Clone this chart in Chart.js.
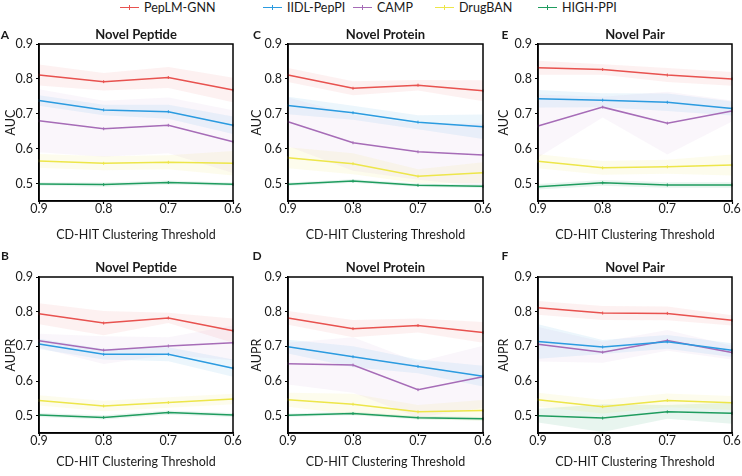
<!DOCTYPE html>
<html><head><meta charset="utf-8">
<script src="https://cdn.jsdelivr.net/npm/chart.js@4/dist/chart.umd.min.js"></script>
<style>
html,body{margin:0;padding:0;background:#fff;}
body{width:742px;height:476px;position:relative;overflow:hidden;font-family:Lato,sans-serif;}
canvas{position:absolute;}
.leg{position:absolute;top:0;height:15px;display:flex;align-items:center;font-size:12.5px;color:#1a1a1a;white-space:nowrap;}
.leg i{display:inline-block;width:19px;height:1.5px;margin-right:5px;position:relative;}
.leg i b{position:absolute;left:9px;top:-1.5px;width:1.2px;height:4.5px;}
</style></head>
<body>
<div id="legend"></div>
<canvas id="cA"></canvas><canvas id="cC"></canvas><canvas id="cE"></canvas>
<canvas id="cB"></canvas><canvas id="cD"></canvas><canvas id="cF"></canvas>
<script>
// ---------- data ----------
const thresholds = ['0.9', '0.8', '0.7', '0.6'];
const methods = ['PepLM-GNN', 'IIDL-PepPI', 'CAMP', 'DrugBAN', 'HIGH-PPI'];
const yTicks = [0.5, 0.6, 0.7, 0.8, 0.9];

// rows follow `methods`; columns follow `thresholds`
const aucNovelPeptide = [
  [0.811, 0.792, 0.804, 0.768],
  [0.738, 0.711, 0.706, 0.667],
  [0.680, 0.657, 0.667, 0.620],
  [0.565, 0.558, 0.561, 0.558],
  [0.499, 0.497, 0.503, 0.498]
];
const aucNovelPeptideSd = [
  [0.030, 0.025, 0.030, 0.035],
  [0.015, 0.015, 0.020, 0.025],
  [0.090, 0.080, 0.080, 0.090],
  [0.020, 0.020, 0.020, 0.035],
  [0.005, 0.006, 0.006, 0.005]
];
const aucNovelProtein = [
  [0.811, 0.773, 0.782, 0.766],
  [0.724, 0.703, 0.676, 0.663],
  [0.677, 0.617, 0.591, 0.582],
  [0.574, 0.557, 0.521, 0.531],
  [0.498, 0.507, 0.495, 0.492]
];
const aucNovelProteinSd = [
  [0.020, 0.020, 0.015, 0.030],
  [0.025, 0.020, 0.020, 0.035],
  [0.070, 0.080, 0.080, 0.090],
  [0.030, 0.030, 0.020, 0.030],
  [0.005, 0.005, 0.005, 0.005]
];
const aucNovelPair = [
  [0.832, 0.827, 0.811, 0.800],
  [0.743, 0.739, 0.733, 0.715],
  [0.665, 0.719, 0.673, 0.708],
  [0.564, 0.545, 0.548, 0.553],
  [0.491, 0.502, 0.496, 0.496]
];
const aucNovelPairSd = [
  [0.020, 0.015, 0.020, 0.020],
  [0.025, 0.020, 0.025, 0.020],
  [0.090, 0.030, 0.090, 0.030],
  [0.020, 0.020, 0.020, 0.030],
  [0.008, 0.008, 0.008, 0.008]
];
const auprNovelPeptide = [
  [0.794, 0.767, 0.782, 0.745],
  [0.707, 0.677, 0.677, 0.637],
  [0.716, 0.689, 0.701, 0.710],
  [0.544, 0.528, 0.538, 0.548],
  [0.502, 0.495, 0.509, 0.502]
];
const auprNovelPeptideSd = [
  [0.030, 0.035, 0.015, 0.035],
  [0.015, 0.015, 0.020, 0.025],
  [0.020, 0.040, 0.025, 0.050],
  [0.015, 0.015, 0.015, 0.015],
  [0.006, 0.006, 0.006, 0.006]
];
const auprNovelProtein = [
  [0.782, 0.751, 0.760, 0.740],
  [0.699, 0.670, 0.642, 0.614],
  [0.650, 0.646, 0.575, 0.612],
  [0.546, 0.533, 0.511, 0.515],
  [0.501, 0.506, 0.494, 0.491]
];
const auprNovelProteinSd = [
  [0.020, 0.025, 0.020, 0.030],
  [0.020, 0.030, 0.020, 0.030],
  [0.060, 0.080, 0.080, 0.090],
  [0.020, 0.030, 0.020, 0.030],
  [0.005, 0.005, 0.005, 0.005]
];
const auprNovelPair = [
  [0.811, 0.796, 0.795, 0.775],
  [0.714, 0.698, 0.713, 0.689],
  [0.706, 0.683, 0.717, 0.682],
  [0.546, 0.526, 0.544, 0.537],
  [0.500, 0.493, 0.511, 0.507]
];
const auprNovelPairSd = [
  [0.020, 0.020, 0.020, 0.015],
  [0.050, 0.020, 0.020, 0.020],
  [0.050, 0.030, 0.030, 0.020],
  [0.020, 0.020, 0.020, 0.020],
  [0.020, 0.040, 0.020, 0.030]
];

// ---------- style ----------
const lineColors = ['#e8524f', '#2b9be0', '#a66cb7', '#ede64a', '#1f9c5f'];
const bandAlpha = [0.08, 0.09, 0.06, 0.10, 0.10];
const FONT = 'Lato, sans-serif';
const TXT = '#1a1a1a';

function rgba(hex, a) {
  const n = parseInt(hex.slice(1), 16);
  return `rgba(${n >> 16},${(n >> 8) & 255},${n & 255},${a})`;
}

// legend
const legendX = [120, 263, 353, 435, 538];
const legEl = document.getElementById('legend');
methods.forEach((m, i) => {
  const d = document.createElement('div');
  d.className = 'leg';
  d.style.left = legendX[i] + 'px';
  d.innerHTML = `<i style="background:${lineColors[i]}"><b style="background:${lineColors[i]}"></b></i>${m}`;
  legEl.appendChild(d);
});

// layout per panel
const cols = [
  {left: 0, width: 245, yw: 39, pr: 12, ytp: 3, lx: 5},
  {left: 245, width: 248, yw: 43, pr: 10, ytp: 4, lx: 12},
  {left: 493, width: 249, yw: 45, pr: 10, ytp: 3, lx: 12}
];
const rows = [
  {top: 20, height: 224, pt: 24, xh: 43, xtb: 2, ty: 15, ly: 15},
  {top: 244, height: 232, pt: 33, xh: 43, xtb: 7, ty: 24, ly: 12}
];

const panels = [
  {id: 'cA', col: 0, row: 0, letter: 'A', title: 'Novel Peptide', ylab: 'AUC', mean: aucNovelPeptide, sd: aucNovelPeptideSd},
  {id: 'cC', col: 1, row: 0, letter: 'C', title: 'Novel Protein', ylab: 'AUC', mean: aucNovelProtein, sd: aucNovelProteinSd},
  {id: 'cE', col: 2, row: 0, letter: 'E', title: 'Novel Pair', ylab: 'AUC', mean: aucNovelPair, sd: aucNovelPairSd},
  {id: 'cB', col: 0, row: 1, letter: 'B', title: 'Novel Peptide', ylab: 'AUPR', mean: auprNovelPeptide, sd: auprNovelPeptideSd},
  {id: 'cD', col: 1, row: 1, letter: 'D', title: 'Novel Protein', ylab: 'AUPR', mean: auprNovelProtein, sd: auprNovelProteinSd},
  {id: 'cF', col: 2, row: 1, letter: 'F', title: 'Novel Pair', ylab: 'AUPR', mean: auprNovelPair, sd: auprNovelPairSd}
];

const framePlugin = {
  id: 'frame',
  afterDatasetsDraw(chart) {
    const {ctx, chartArea: a} = chart;
    ctx.save();
    ctx.strokeStyle = '#000';
    ctx.lineWidth = 1.5;
    ctx.strokeRect(a.left, a.top, a.right - a.left, a.bottom - a.top);
    ctx.restore();
  }
};
const textPlugin = {
  id: 'panelText',
  afterDraw(chart, args, opts) {
    const {ctx, chartArea: a} = chart;
    ctx.save();
    ctx.fillStyle = TXT;
    ctx.textBaseline = 'middle';
    ctx.textAlign = 'center';
    ctx.font = `bold 13px ${FONT}`;
    ctx.fillText(opts.title, (a.left + a.right) / 2, opts.ty);
    ctx.font = `bold 12px ${FONT}`;
    ctx.fillText(opts.letter, opts.lx, opts.ly);
    ctx.restore();
  }
};

panels.forEach(p => {
  const c = cols[p.col], r = rows[p.row];
  const cv = document.getElementById(p.id);
  cv.width = c.width; cv.height = r.height;
  cv.style.left = c.left + 'px'; cv.style.top = r.top + 'px';
  cv.style.width = c.width + 'px'; cv.style.height = r.height + 'px';

  const datasets = [];
  p.mean.forEach((row, i) => {
    datasets.push({
      data: row.map((v, j) => v - p.sd[i][j]),
      borderWidth: 0, borderColor: 'rgba(0,0,0,0)', pointRadius: 0, fill: false
    });
    datasets.push({
      data: row.map((v, j) => v + p.sd[i][j]),
      borderWidth: 0, borderColor: 'rgba(0,0,0,0)', pointRadius: 0,
      fill: '-1', backgroundColor: rgba(lineColors[i], bandAlpha[i])
    });
  });
  p.mean.forEach((row, i) => {
    datasets.push({
      label: methods[i], data: row, borderColor: lineColors[i], borderWidth: 1.5,
      pointStyle: 'line', rotation: 90, pointRadius: 1.5, pointBorderWidth: 1,
      pointBorderColor: lineColors[i], fill: false, tension: 0
    });
  });

  const gridCfg = {display: true, drawOnChartArea: false, drawTicks: true, tickLength: 3, tickColor: '#000', tickWidth: 1.2};
  const borderCfg = {display: true, color: '#000', width: 1.5};

  new Chart(cv, {
    type: 'line',
    data: {labels: thresholds, datasets},
    plugins: [framePlugin, textPlugin],
    options: {
      responsive: false, animation: false, devicePixelRatio: 1,
      layout: {padding: {left: 0, right: c.pr, top: r.pt, bottom: 0}},
      plugins: {
        legend: {display: false}, tooltip: {enabled: false},
        filler: {drawTime: 'beforeDatasetsDraw'},
        panelText: {title: p.title, letter: p.letter, ty: r.ty, lx: c.lx, ly: r.ly}
      },
      scales: {
        x: {
          offset: false, grid: gridCfg, border: borderCfg,
          ticks: {color: TXT, font: {family: FONT, size: 12.5}, padding: -3, maxRotation: 0, autoSkip: false},
          title: {display: true, text: 'CD-HIT Clustering Threshold', color: TXT,
                  font: {family: FONT, size: 12.5}, padding: {top: 0, bottom: r.xtb}},
          afterFit: s => { s.height = r.xh; }
        },
        y: {
          min: 0.45, max: 0.9, grid: gridCfg, border: borderCfg,
          afterBuildTicks: s => { s.ticks = yTicks.map(v => ({value: v})); },
          ticks: {color: TXT, font: {family: FONT, size: 12.5}, padding: 3, callback: v => v.toFixed(1)},
          title: {display: true, text: p.ylab, color: TXT,
                  font: {family: FONT, size: 12.5}, padding: {top: c.ytp, bottom: 0}},
          afterFit: s => { s.width = c.yw; }
        }
      }
    }
  });
});
</script>
</body></html>
